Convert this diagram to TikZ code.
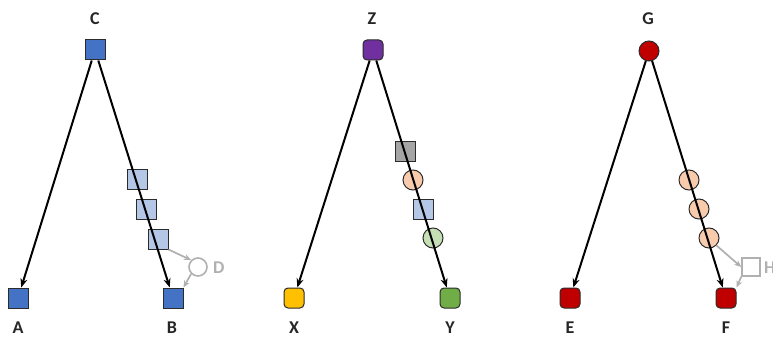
\documentclass[tikz,border=0pt]{standalone}
\usepackage{fontspec}
\setmainfont{Carlito}
\usetikzlibrary{arrows.meta}
\definecolor{edge}{HTML}{2B2B2B}
\definecolor{labc}{HTML}{262626}
\definecolor{blueN}{HTML}{4472C4}
\definecolor{blueL}{HTML}{B4C7E7}
\definecolor{purpleN}{HTML}{7030A0}
\definecolor{yellowN}{HTML}{FFC000}
\definecolor{greenN}{HTML}{70AD47}
\definecolor{greenL}{HTML}{C5E0B4}
\definecolor{redN}{HTML}{C00000}
\definecolor{peach}{HTML}{F8CBAD}
\definecolor{grayN}{HTML}{A5A5A5}
\definecolor{ghost}{HTML}{B0B0B0}
\begin{document}
\begin{tikzpicture}[x=1pt,y=-1pt,
  sq/.style={rectangle,draw=edge,line width=1pt,minimum size=20pt,inner sep=0pt},
  rsq/.style={sq,rounded corners=4pt},
  cir/.style={circle,draw=edge,line width=1pt,minimum size=20pt,inner sep=0pt},
  lab/.style={font=\bfseries\fontsize{18}{18}\selectfont,text=labc,inner sep=0pt},
  ghostlab/.style={font=\bfseries\fontsize{18}{18}\selectfont,text=ghost,inner sep=0pt},
  link/.style={-{Stealth[length=9pt,width=7pt]},line width=2pt,draw=black},
  ghostlink/.style={-{Stealth[length=7pt,width=6pt]},line width=1.7pt,draw=ghost}]
\useasboundingbox (0,0) rectangle (773,339);
\clip (0,0) rectangle (773,339);

% ---- left tree: C -> A, C -> B via three light squares
\node[sq,fill=blueN] (C) at (95,50) {};
\node[sq,fill=blueN] (A) at (18,298) {};
\node[sq,fill=blueN] (B) at (173,298) {};
\node[lab] (lC) at (95,19) {C};
\node[lab] (lA) at (18,328) {A};
\node[lab] (lB) at (172,328) {B};
\node[sq,fill=blueL] (c1) at (137,180) {};
\node[sq,fill=blueL] (c2) at (146,209) {};
\node[sq,fill=blueL] (c3) at (158,239) {};
\node[circle,draw=ghost,line width=1.6pt,minimum size=18pt,inner sep=0pt] (D) at (198,267) {};
\node[ghostlab,anchor=west] (lD) at (213,268) {D};
\draw[link] (C) -- (A);
\draw[link] (C) -- (B);
\draw[ghostlink] (c3.south east) -- (D.north west);
\draw[ghostlink] (D.south west) -- (B.north east);

% ---- middle tree: Z -> X, Z -> Y via mixed steps
\node[rsq,fill=purpleN] (Z) at (373,50) {};
\node[rsq,fill=yellowN] (X) at (294,298) {};
\node[rsq,fill=greenN] (Y) at (450,298) {};
\node[lab] (lZ) at (372,19) {Z};
\node[lab] (lX) at (294,328) {X};
\node[lab] (lY) at (450,328) {Y};
\node[sq,fill=grayN] (z1) at (405,152) {};
\node[cir,fill=peach] (z2) at (413,180) {};
\node[sq,fill=blueL] (z3) at (423,209) {};
\node[cir,fill=greenL] (z4) at (433,238) {};
\draw[link] (Z) -- (X);
\draw[link] (Z) -- (Y);

% ---- right tree: G -> E, G -> F via three peach circles
\node[cir,fill=redN] (G) at (649,51) {};
\node[rsq,fill=redN] (E) at (570,298) {};
\node[rsq,fill=redN] (F) at (726,298) {};
\node[lab] (lG) at (648,19) {G};
\node[lab] (lE) at (570,328) {E};
\node[lab] (lF) at (726,328) {F};
\node[cir,fill=peach] (g1) at (689,180) {};
\node[cir,fill=peach] (g2) at (699,209) {};
\node[cir,fill=peach] (g3) at (709,238) {};
\node[rectangle,draw=ghost,line width=1.6pt,minimum size=18pt,inner sep=0pt] (H) at (751,267) {};
\node[ghostlab,anchor=west] (lH) at (764,268) {H};
\draw[link] (G) -- (E);
\draw[link] (G) -- (F);
\draw[ghostlink] (g3.south east) -- (H.west);
\draw[ghostlink] (H.south west) -- (F.north east);
\end{tikzpicture}
\end{document}
